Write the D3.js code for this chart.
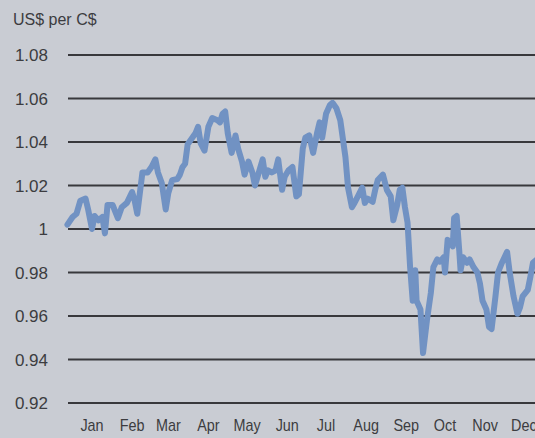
<!DOCTYPE html>
<meta charset="utf-8">
<head>
<title>US$ per C$</title>
<style>
  body { margin: 0; background: #c9ccd3; }
  svg { display: block; }
</style>
</head>
<body>
<div id="chart"></div>
<script src="https://d3js.org/d3.v7.min.js"></script>
<script>

// daily exchange rate readings (US$ per C$)
var dates = [
  "2010-12-28","2011-01-01","2011-01-04","2011-01-07","2011-01-11","2011-01-13","2011-01-16","2011-01-18",
  "2011-01-21","2011-01-24","2011-01-26","2011-01-28","2011-02-01","2011-02-05","2011-02-08","2011-02-12",
  "2011-02-16","2011-02-18","2011-02-20","2011-02-24","2011-02-28","2011-03-03","2011-03-06","2011-03-08",
  "2011-03-11","2011-03-14","2011-03-16","2011-03-19","2011-03-23","2011-03-25","2011-03-27","2011-03-29",
  "2011-03-31","2011-04-06","2011-04-08","2011-04-10","2011-04-13","2011-04-16","2011-04-19","2011-04-23",
  "2011-04-25","2011-04-27","2011-04-29","2011-05-01","2011-05-04","2011-05-07","2011-05-09","2011-05-12",
  "2011-05-14","2011-05-17","2011-05-20","2011-05-22","2011-05-24","2011-05-28","2011-05-30","2011-06-01",
  "2011-06-04","2011-06-07","2011-06-09","2011-06-12","2011-06-14","2011-06-17","2011-06-20","2011-06-23",
  "2011-06-25","2011-06-28","2011-06-30","2011-07-03","2011-07-06","2011-07-09","2011-07-11","2011-07-13",
  "2011-07-16","2011-07-19","2011-07-21","2011-07-24","2011-07-27","2011-07-31","2011-08-02","2011-08-05",
  "2011-08-07","2011-08-10","2011-08-13","2011-08-15","2011-08-17","2011-08-21","2011-08-23","2011-08-25",
  "2011-08-29","2011-09-01","2011-09-04","2011-09-06","2011-09-09","2011-09-11","2011-09-13","2011-09-15",
  "2011-09-17","2011-09-19","2011-09-21","2011-09-23","2011-09-24","2011-09-27","2011-09-29","2011-10-02",
  "2011-10-05","2011-10-07","2011-10-10","2011-10-12","2011-10-15","2011-10-16","2011-10-18","2011-10-22",
  "2011-10-23","2011-10-25","2011-10-27","2011-10-28","2011-10-30","2011-11-02","2011-11-04","2011-11-07",
  "2011-11-10","2011-11-12","2011-11-14","2011-11-17","2011-11-19","2011-11-21","2011-11-24","2011-11-26",
  "2011-11-29","2011-12-03","2011-12-05","2011-12-08","2011-12-11","2011-12-13","2011-12-15","2011-12-19",
  "2011-12-21","2011-12-23","2011-12-26","2011-12-29"
];
var rates = [
  1.002,1.0055,1.007,1.013,1.014,1.009,1.000,1.006,
  1.004,1.0055,0.998,1.011,1.011,1.005,1.010,1.012,
  1.017,1.013,1.007,1.026,1.026,1.0285,1.032,1.026,
  1.021,1.009,1.0165,1.0225,1.023,1.025,1.0285,1.030,
  1.039,1.044,1.047,1.0395,1.036,1.047,1.051,1.050,
  1.049,1.053,1.054,1.044,1.035,1.043,1.037,1.031,
  1.025,1.031,1.026,1.020,1.024,1.032,1.024,1.027,
  1.026,1.027,1.032,1.018,1.024,1.027,1.0285,1.015,
  1.016,1.037,1.042,1.043,1.035,1.044,1.049,1.042,
  1.053,1.057,1.058,1.0555,1.050,1.033,1.019,1.010,
  1.012,1.0155,1.019,1.012,1.014,1.0125,1.018,1.0225,
  1.025,1.018,1.015,1.004,1.011,1.018,1.019,1.010,
  1.003,0.9825,0.967,0.981,0.967,0.963,0.943,0.958,
  0.9705,0.9825,0.986,0.985,0.987,0.980,0.995,0.992,
  1.005,1.006,0.990,0.981,0.987,0.9845,0.986,0.9825,
  0.980,0.975,0.967,0.963,0.955,0.954,0.969,0.980,
  0.9845,0.9895,0.980,0.969,0.961,0.964,0.969,0.972,
  0.978,0.9845,0.986,0.987
];
var yTicks = [0.92, 0.94, 0.96, 0.98, 1, 1.02, 1.04, 1.06, 1.08];
var months = ["Jan","Feb","Mar","Apr","May","Jun","Jul","Aug","Sep","Oct","Nov","Dec"];

var width = 535, height = 438;
var parse = d3.timeParse("%Y-%m-%d");
var data = dates.map(function(d, i) { return {date: parse(d), value: rates[i]}; });

var svg = d3.select("#chart")
  .append("svg")
    .attr("width", width)
    .attr("height", height);

var x = d3.scaleTime()
  .domain([parse("2011-01-01"), parse("2012-01-01")])
  .range([72.6, 544.6]);

var y = d3.scaleLinear()
  .domain([0.92, 1.08])
  .range([403, 55]);

// horizontal grid
svg.append("g")
  .selectAll("line")
  .data(yTicks)
  .enter().append("line")
    .attr("x1", 68)
    .attr("x2", width)
    .attr("y1", function(d) { return y(d); })
    .attr("y2", function(d) { return y(d); })
    .attr("stroke", "#38383c")
    .attr("stroke-width", 1.8);

// y labels
svg.append("g")
  .selectAll("text")
  .data(yTicks)
  .enter().append("text")
    .attr("x", 48)
    .attr("y", function(d) { return y(d); })
    .attr("dy", "0.36em")
    .attr("text-anchor", "end")
    .style("font-family", "Liberation Sans, Arial, sans-serif")
    .style("font-size", "17px")
    .style("fill", "#3c3c40")
    .text(function(d) { return d3.format("~g")(d); });

// month labels, centred mid-month
svg.append("g")
  .selectAll("text")
  .data(months)
  .enter().append("text")
    .attr("transform", function(d, i) {
      return "translate(" + x(new Date(2011, i, 16)) + ",431) scale(0.9,1)";
    })
    .attr("text-anchor", "middle")
    .style("font-family", "Liberation Sans, Arial, sans-serif")
    .style("font-size", "16px")
    .style("fill", "#3c3c40")
    .text(function(d) { return d; });

svg.append("text")
  .attr("x", 13)
  .attr("y", 25)
  .style("font-family", "Liberation Sans, Arial, sans-serif")
  .style("font-size", "16px")
  .style("fill", "#3c3c40")
  .text("US$ per C$");

svg.append("path")
  .datum(data)
  .attr("fill", "none")
  .attr("stroke", "#7192c3")
  .attr("stroke-width", 6)
  .attr("stroke-linejoin", "round")
  .attr("stroke-linecap", "round")
  .attr("d", d3.line()
    .x(function(d) { return x(d.date); })
    .y(function(d) { return y(d.value); }));

</script>
</body>
